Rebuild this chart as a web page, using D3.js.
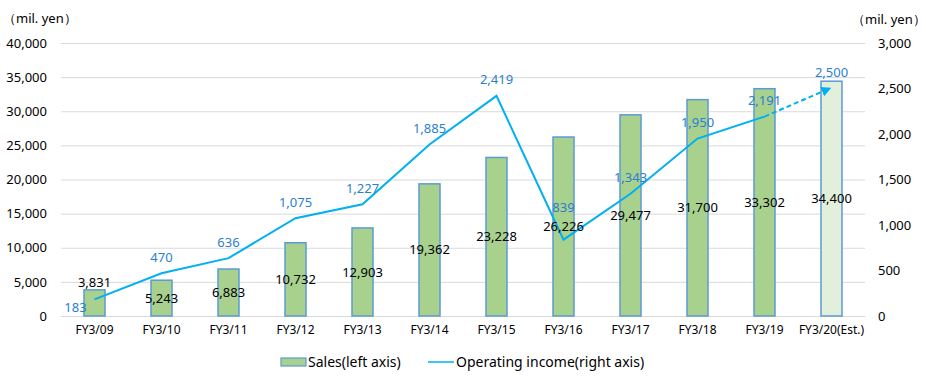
<!DOCTYPE html>
<html><head><meta charset="utf-8">
<script src="https://cdn.jsdelivr.net/npm/d3@7"></script>
<style>body{margin:0;background:#fff;} text{font-family:"Noto Sans",sans-serif;}</style>
</head><body>
<svg id="c" width="926" height="379"></svg>
<script>
const categories = ["FY3/09","FY3/10","FY3/11","FY3/12","FY3/13","FY3/14","FY3/15","FY3/16","FY3/17","FY3/18","FY3/19","FY3/20(Est.)"];
const sales = [3831,5243,6883,10732,12903,19362,23228,26226,29477,31700,33302,34400];
const income = [183,470,636,1075,1227,1885,2419,839,1343,1950,2191,2500];
const leftTicks = [0,5000,10000,15000,20000,25000,30000,35000,40000];
const rightTicks = [0,500,1000,1500,2000,2500,3000];
const unitLabel = "（mil. yen）";
const legendLabels = ["Sales(left axis)","Operating income(right axis)"];

const svg = d3.select("#c");
const x0 = 61, x1 = 865, yTop = 43, yBot = 316;
const x = d3.scaleBand().domain(categories).range([x0, x1]);
const yL = d3.scaleLinear().domain([0,40000]).range([yBot, yTop]);
const yR = d3.scaleLinear().domain([0,3000]).range([yBot, yTop]);
const fmt = d3.format(",");
const cx = c => x(c) + x.bandwidth()/2;

// gridlines
svg.append("g").selectAll("line").data(leftTicks).join("line")
  .attr("x1", x0).attr("x2", x1).attr("y1", d=>yL(d)+0.5).attr("y2", d=>yL(d)+0.5)
  .attr("stroke", "#d9d9d9").attr("stroke-width", 1);

// left axis
const gl = svg.append("g").attr("transform", `translate(${47},0)`)
  .call(d3.axisLeft(yL).tickValues(leftTicks).tickFormat(fmt).tickSize(0).tickPadding(0));
gl.select(".domain").remove();
gl.selectAll("text").attr("font-size", 13).attr("fill", "#000").attr("font-family","Noto Sans");

// right axis
const gr = svg.append("g").attr("transform", `translate(${878},0)`)
  .call(d3.axisRight(yR).tickValues(rightTicks).tickFormat(fmt).tickSize(0).tickPadding(0));
gr.select(".domain").remove();
gr.selectAll("text").attr("font-size", 13).attr("fill", "#000").attr("font-family","Noto Sans");

// x axis labels
const gx = svg.append("g").attr("transform", `translate(0,${yBot})`)
  .call(d3.axisBottom(x).tickSize(0).tickPadding(9));
gx.select(".domain").remove();
gx.selectAll("text").attr("font-size", 12).attr("fill", "#000").attr("font-family","Noto Sans");

// bars
const bw = 21;
svg.append("g").selectAll("rect").data(sales).join("rect")
  .attr("x", (d,i)=>cx(categories[i]) - bw/2)
  .attr("y", d=>yL(d))
  .attr("width", bw).attr("height", d=>yBot - yL(d))
  .attr("fill", (d,i)=> i===sales.length-1 ? "#e2efda" : "#a9d18e")
  .attr("stroke", "#5b9bd5").attr("stroke-width", 1.5);

// line
const line = d3.line().x((d,i)=>cx(categories[i])).y(d=>yR(d));
const solid = income.slice(0, income.length-1);
svg.append("path").attr("d", line(solid)).attr("fill","none")
  .attr("stroke","#00b0f0").attr("stroke-width",2).attr("stroke-linejoin","miter");

// dashed forecast segment with arrow
const n = income.length;
const ax0 = cx(categories[n-2]), ay0 = yR(income[n-2]);
const ax1 = cx(categories[n-1]), ay1 = yR(income[n-1]);
svg.append("defs").append("marker").attr("id","arr")
  .attr("viewBox","0 0 10 10").attr("refX",8).attr("refY",5)
  .attr("markerWidth",5).attr("markerHeight",5).attr("orient","auto")
  .append("path").attr("d","M0,0 L10,5 L0,10 z").attr("fill","#00b0f0");
svg.append("line").attr("x1",ax0).attr("y1",ay0).attr("x2",ax1-2).attr("y2",ay1)
  .attr("stroke","#00b0f0").attr("stroke-width",2).attr("stroke-dasharray","5,3")
  .attr("marker-end","url(#arr)");

// sales labels
svg.append("g").selectAll("text").data(sales).join("text")
  .attr("x",(d,i)=>cx(categories[i]))
  .attr("y",(d,i)=> i===0 ? yL(d)-7 : (yL(d)+yBot)/2)
  .attr("dy","0.35em").attr("text-anchor","middle")
  .attr("font-size",13).attr("fill","#000").text(d=>fmt(d));

// income labels
svg.append("g").selectAll("text").data(income).join("text")
  .attr("x",(d,i)=> i===0 ? cx(categories[i])-19 : cx(categories[i]))
  .attr("y",(d,i)=> i===0 ? yR(d)+8 : (i===7 ? yR(d)-32 : yR(d)-16))
  .attr("dy","0.35em").attr("text-anchor","middle")
  .attr("font-size",13).attr("fill","#2a7fd0").text(d=>fmt(d));

// unit labels
svg.append("text").attr("x",3).attr("y",18).attr("dy","0.35em").attr("font-size",13).text(unitLabel);
svg.append("text").attr("x",852).attr("y",19).attr("dy","0.35em").attr("font-size",13).text(unitLabel);

// legend
const lg = svg.append("g");
lg.append("rect").attr("x",281).attr("y",358).attr("width",25).attr("height",8)
  .attr("fill","#a9d18e").attr("stroke","#5b9bd5").attr("stroke-width",1.2);
lg.append("text").attr("x",308).attr("y",362).attr("dy","0.35em").attr("font-size",14).text(legendLabels[0]);
lg.append("line").attr("x1",428).attr("x2",454).attr("y1",362).attr("y2",362)
  .attr("stroke","#00b0f0").attr("stroke-width",1.5);
lg.append("text").attr("x",456).attr("y",362).attr("dy","0.35em").attr("font-size",14).text(legendLabels[1]);
</script>
</body></html>
